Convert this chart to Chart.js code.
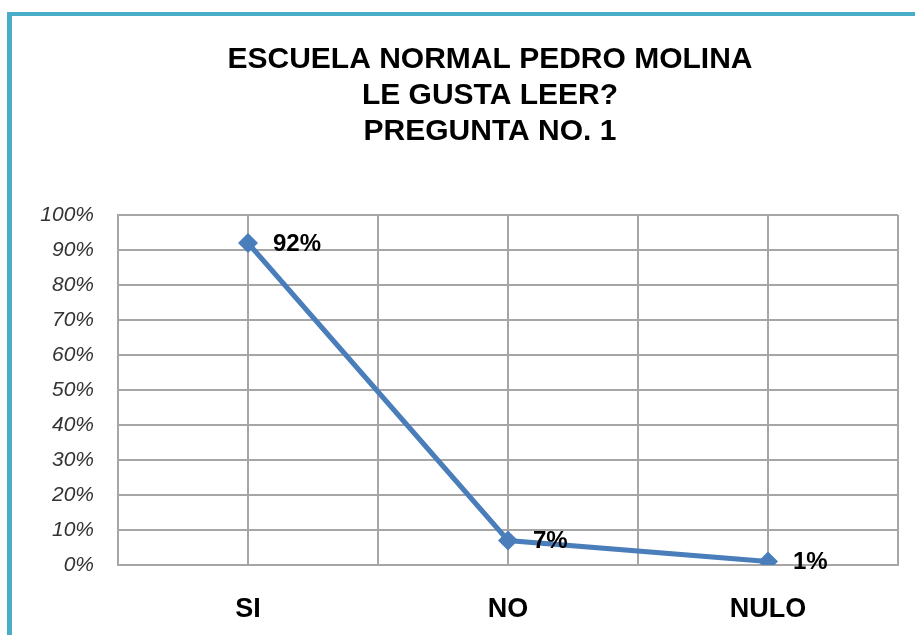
<!DOCTYPE html>
<html>
<head>
<meta charset="utf-8">
<title>Le gusta leer</title>
<script src="https://cdn.jsdelivr.net/npm/chart.js@4/dist/chart.umd.min.js"></script>
<style>
  html, body { margin: 0; padding: 0; background: #fff; }
  #frame {
    position: absolute; left: 7px; top: 12px; width: 960px; height: 700px;
    border-left: 5px solid #4bacc6; border-top: 4px solid #4bacc6;
  }
  #chart { position: absolute; left: 0; top: 0; }
</style>
</head>
<body>
<div id="frame"></div>
<canvas id="chart" width="915" height="635"></canvas>
<script>
// data
var categories = ['SI', 'NO', 'NULO'];
var percents = [92, 7, 1];
var yTicks = [0, 10, 20, 30, 40, 50, 60, 70, 80, 90, 100];
var titleLines = ['ESCUELA NORMAL PEDRO MOLINA', 'LE GUSTA LEER?', 'PREGUNTA NO. 1'];

var FONT = "'Liberation Sans', Arial, sans-serif";
var BLUE = '#4a7ebb';
var GRID = '#a6a6a6';
var TITLE_CENTER = 490;

// value labels next to each point
var pointLabels = {
  id: 'pointLabels',
  afterLayout: function (chart) {
    // the title sits a bit right of the canvas centre in the original
    var tb = chart.titleBlock;
    if (tb) {
      var dx = TITLE_CENTER - (tb.left + tb.right) / 2;
      tb.left += dx;
      tb.right += dx;
    }
  },
  afterDatasetsDraw: function (chart) {
    var ctx = chart.ctx;
    var meta = chart.getDatasetMeta(0);
    ctx.save();
    ctx.font = 'bold 24px ' + FONT;
    ctx.fillStyle = '#000';
    ctx.textAlign = 'left';
    ctx.textBaseline = 'middle';
    meta.data.forEach(function (pt, i) {
      ctx.fillText(percents[i] + '%', pt.x + 25, pt.y + 1);
    });
    ctx.restore();
  }
};

var ctx = document.getElementById('chart').getContext('2d');
var chart = new Chart(ctx, {
  type: 'line',
  data: {
    datasets: [{
      data: percents.map(function (v, i) { return { x: i, y: v }; }),
      borderColor: BLUE,
      borderWidth: 5,
      tension: 0,
      pointStyle: 'rectRot',
      pointRadius: 10,
      pointBackgroundColor: BLUE,
      pointBorderWidth: 0,
      fill: false
    }]
  },
  options: {
    responsive: false,
    animation: false,
    layout: { autoPadding: false, padding: { left: 30, right: 17, top: 0, bottom: 0 } },
    plugins: {
      legend: { display: false },
      tooltip: { enabled: false },
      title: {
        display: true,
        text: titleLines,
        color: '#000',
        font: { family: FONT, size: 30, weight: 'bold', lineHeight: 1.2 },
        padding: { top: 42, bottom: 65 }
      }
    },
    scales: {
      x: {
        type: 'linear',
        min: -0.5,
        max: categories.length - 0.5,
        afterFit: function (scale) { scale.height = 70; },
        grid: { color: GRID, lineWidth: 2, drawTicks: true, tickLength: 28, tickColor: 'rgba(0,0,0,0)' },
        border: { color: GRID, width: 2 },
        ticks: {
          stepSize: 0.5,
          autoSkip: false,
          maxRotation: 0,
          padding: 0,
          color: '#000',
          font: { family: FONT, size: 27, weight: 'bold' },
          callback: function (v) {
            return Number.isInteger(v) ? categories[v] : '';
          }
        }
      },
      y: {
        min: yTicks[0],
        max: yTicks[yTicks.length - 1],
        afterFit: function (scale) { scale.width = 88; },
        afterBuildTicks: function (scale) {
          scale.ticks = yTicks.map(function (v) { return { value: v }; });
        },
        grid: { color: GRID, lineWidth: 2, drawTicks: false },
        border: { color: GRID, width: 2 },
        ticks: {
          padding: 24,
          color: '#333',
          font: { family: FONT, size: 21, style: 'italic' },
          callback: function (v) { return v + '%'; }
        }
      }
    }
  },
  plugins: [pointLabels]
});
</script>
</body>
</html>
